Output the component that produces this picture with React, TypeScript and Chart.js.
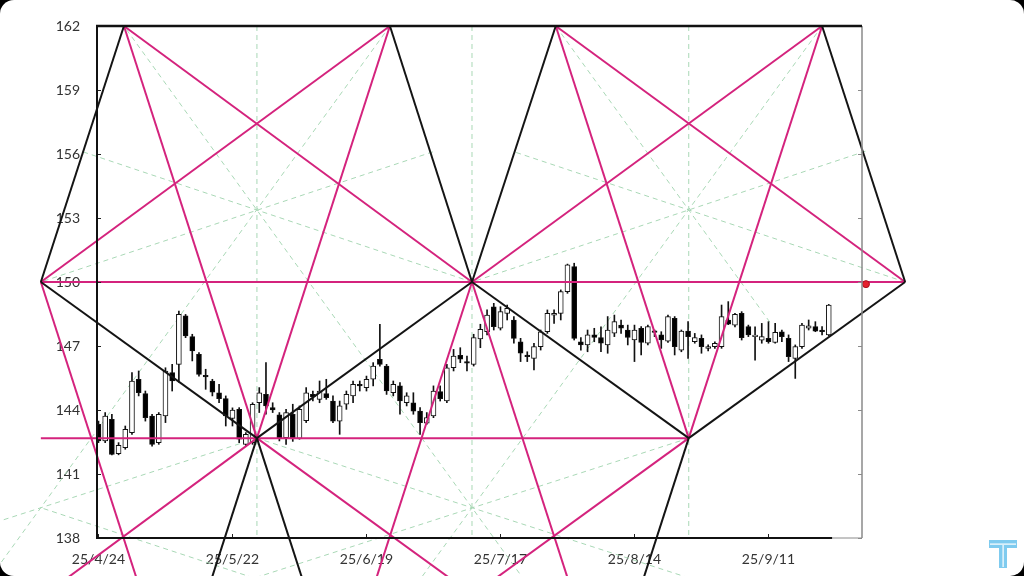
import React, { useEffect, useRef } from 'react';
import { Chart, registerables } from 'chart.js';

Chart.register(...registerables);

// ---- axis data ----
const tickIndex = [0, 20, 40, 60, 80, 100];
const tickLabels = ['25/4/24', '25/5/22', '25/6/19', '25/7/17', '25/8/14', '25/9/11'];
const yMin = 138;
const yMax = 162;
const yStep = 3;
const xMin = -0.22;
const xMax = 113.96;

// ---- daily candles (trading-day index 0..109) ----
const opens = [
  143.33, 142.55, 143.56, 141.95, 142.23, 142.94, 145.44, 144.77, 143.72, 142.47,
  143.72, 145.75, 146.14, 148.41, 147.44, 146.61, 145.63, 145.36, 144.81, 144.53,
  143.60, 144.03, 142.39, 142.47, 144.34, 144.73, 144.11, 143.77, 142.70, 143.80,
  142.67, 143.50, 144.73, 144.50, 144.77, 144.42, 143.48, 144.27, 144.66, 145.20,
  145.05, 145.44, 146.38, 146.06, 144.81, 145.13, 144.34, 144.34, 143.95, 143.38,
  143.72, 144.86, 144.42, 145.98, 146.56, 146.27, 146.14, 147.33, 147.67, 148.84,
  147.83, 148.53, 148.22, 147.20, 146.58, 146.42, 146.97, 147.67, 148.45, 148.53,
  149.55, 150.72, 147.20, 147.05, 147.52, 147.40, 147.05, 147.60, 147.98, 147.75,
  147.28, 147.83, 147.13, 147.70, 147.52, 147.23, 148.30, 146.81, 147.70, 147.20,
  147.36, 146.89, 146.97, 146.97, 148.22, 147.98, 148.53, 147.91, 147.44, 147.27,
  147.36, 147.17, 147.67, 147.36, 146.42, 146.97, 147.83, 147.91, 147.75, 147.52,
];
const highs = [
  143.48, 143.88, 143.80, 142.47, 143.25, 145.75, 145.83, 144.89, 143.80, 143.88,
  145.98, 146.14, 148.64, 148.48, 147.55, 146.69, 145.91, 145.44, 145.20, 144.66,
  144.10, 144.11, 142.94, 144.34, 145.05, 146.22, 144.34, 143.88, 144.03, 144.27,
  144.19, 145.05, 144.89, 145.36, 145.44, 144.66, 144.42, 144.89, 145.36, 145.36,
  145.59, 146.22, 148.02, 146.14, 145.36, 145.28, 144.81, 144.81, 144.11, 143.88,
  145.13, 145.13, 146.14, 146.84, 146.92, 146.53, 147.55, 148.02, 148.69, 149.00,
  148.84, 148.92, 148.38, 147.36, 146.73, 147.13, 147.75, 148.69, 148.69, 149.63,
  150.84, 150.88, 147.40, 147.75, 147.83, 147.90, 148.38, 148.45, 148.22, 147.98,
  147.98, 147.91, 147.98, 147.75, 147.67, 148.45, 148.38, 147.75, 148.14, 147.59,
  147.52, 147.05, 147.20, 148.92, 149.08, 148.53, 148.61, 147.98, 147.90, 148.06,
  148.14, 148.06, 147.75, 147.52, 147.05, 148.06, 148.22, 148.14, 147.91, 148.95,
];
const lows = [
  142.47, 142.47, 141.90, 141.90, 142.16, 142.86, 144.66, 143.48, 142.31, 142.39,
  143.41, 144.89, 145.30, 147.39, 146.30, 145.59, 144.97, 144.66, 144.34, 143.25,
  143.25, 142.47, 142.31, 142.39, 143.88, 143.80, 143.88, 142.55, 142.39, 142.53,
  142.63, 143.41, 144.42, 144.34, 144.50, 143.41, 142.86, 144.03, 144.34, 144.89,
  144.89, 145.13, 146.06, 144.73, 144.66, 143.80, 144.19, 143.80, 142.86, 143.33,
  143.64, 144.42, 144.34, 145.83, 146.22, 145.83, 146.06, 146.92, 147.52, 147.75,
  147.75, 148.22, 147.13, 146.27, 146.27, 145.88, 146.81, 147.59, 148.06, 148.22,
  149.47, 147.28, 146.81, 146.73, 147.20, 146.73, 146.66, 147.44, 147.59, 147.05,
  146.27, 146.58, 147.05, 147.44, 146.89, 147.17, 146.58, 146.73, 146.42, 147.13,
  146.66, 146.77, 146.89, 146.89, 148.00, 147.90, 147.28, 147.44, 146.34, 147.13,
  147.13, 147.13, 147.20, 146.27, 145.48, 146.89, 147.75, 147.67, 147.52, 147.48,
];
const closes = [
  142.55, 143.72, 141.92, 142.34, 143.09, 145.36, 144.81, 143.64, 142.39, 143.80,
  145.83, 145.36, 148.48, 147.47, 146.77, 145.67, 145.55, 144.84, 144.53, 143.72,
  144.00, 142.63, 142.86, 144.27, 144.81, 144.19, 144.00, 142.67, 143.88, 142.70,
  144.03, 144.81, 144.63, 144.89, 144.58, 143.48, 144.19, 144.73, 145.20, 145.13,
  145.44, 146.06, 146.14, 144.89, 145.20, 144.42, 144.66, 143.95, 143.41, 143.64,
  144.89, 144.53, 145.98, 146.53, 146.38, 146.19, 147.39, 147.78, 148.45, 147.91,
  148.61, 148.77, 147.36, 146.66, 146.50, 146.97, 147.67, 148.53, 148.53, 149.55,
  150.80, 147.36, 147.05, 147.52, 147.40, 147.13, 147.75, 148.14, 147.83, 147.40,
  147.75, 147.17, 147.91, 147.64, 147.28, 148.38, 146.97, 147.70, 147.44, 147.39,
  146.97, 146.97, 147.13, 148.38, 148.02, 148.48, 147.39, 147.52, 147.48, 147.44,
  147.20, 147.64, 147.44, 146.50, 146.97, 147.98, 147.95, 147.70, 147.67, 148.92,
];

// ---- geometric overlay (data units: [index1, price1, index2, price2]) ----
const blackLines = [
  [-8.6, 150, 3.8, 162],
  [43.5, 162, 55.75, 150],
  [55.75, 150, 68.25, 162],
  [108, 162, 120.4, 150],
  [-8.6, 150, 23.65, 142.68],
  [23.65, 142.68, 55.75, 150],
  [55.75, 150, 88.1, 142.68],
  [88.1, 142.68, 120.4, 150],
  [23.65, 142.68, 16.79, 136],
  [23.65, 142.68, 30.51, 136],
  [88.1, 142.68, 81.24, 136],
];
const pinkLines = [
  [-8.6, 150, 120.4, 150],
  [-8.6, 142.68, 88.1, 142.68],
  [3.8, 162, 23.65, 142.68],
  [43.5, 162, 23.65, 142.68],
  [3.8, 162, 55.75, 150],
  [-8.6, 150, 43.5, 162],
  [68.25, 162, 88.1, 142.68],
  [108, 162, 88.1, 142.68],
  [68.25, 162, 120.4, 150],
  [55.75, 150, 108, 162],
  [-8.6, 150, 5.8, 136],
  [23.65, 142.68, -5.2, 136],
  [23.65, 142.68, 52.95, 136],
  [55.75, 150, 41.35, 136],
  [55.75, 150, 70.15, 136],
  [88.1, 142.68, 58.8, 136],
];
const greenLines = [
  [23.65, 162, 23.65, 138],
  [55.75, 162, 55.75, 138],
  [88.1, 162, 88.1, 138],
  [3.8, 162, 63.62, 136],
  [43.5, 162, -16.5, 136],
  [-8.6, 150, 49.9, 156.1],
  [55.75, 150, -2.3, 156.1],
  [68.25, 162, 100.2, 148.12],
  [108, 162, 47.86, 136],
  [55.75, 150, 114.47, 156.13],
  [120.4, 150, 61.78, 156.13],
  [23.65, 142.68, 89.4, 136],
  [88.1, 142.68, 22.05, 136],
  [23.65, 142.68, -15, 138.77],
  [-8.6, 139.42, 24.4, 136],
];
const markerPoint = [114.55, 149.9];

const PINK = '#d4237d';
const GREEN = '#a9d8b6';
const FONT = 'Lato';

function segData(s: number[]) {
  const [x1, y1, x2, y2] = s;
  // listed with descending x so that no point is trimmed outside the scale range
  return x1 >= x2
    ? [{ x: x1, y: y1 }, { x: x2, y: y2 }]
    : [{ x: x2, y: y2 }, { x: x1, y: y1 }];
}

function lineSets(list: number[][], color: string, width: number, order: number, dash: number[] = []) {
  return list.map((s) => ({
    type: 'line' as const,
    data: segData(s),
    borderColor: color,
    borderWidth: width,
    borderDash: dash,
    pointRadius: 0,
    fill: false,
    tension: 0,
    clip: false as any,
    order,
  }));
}

const framePlugin = {
  id: 'frame',
  afterDatasetsDraw(chart: any) {
    const { ctx, chartArea, scales } = chart;
    const { left, right, top, bottom } = chartArea;
    const xs = scales.x;
    const ys = scales.y;
    ctx.save();
    ctx.lineCap = 'butt';
    // inward tick marks
    ctx.lineWidth = 1;
    ys.ticks.forEach((t: any) => {
      const py = Math.round(ys.getPixelForValue(t.value)) + 0.5;
      ctx.strokeStyle = '#222';
      ctx.beginPath(); ctx.moveTo(left, py); ctx.lineTo(left + 4, py); ctx.stroke();
      ctx.strokeStyle = '#8a8a8a';
      ctx.beginPath(); ctx.moveTo(right - 4, py); ctx.lineTo(right, py); ctx.stroke();
    });
    xs.ticks.forEach((t: any) => {
      const px = Math.round(xs.getPixelForValue(t.value)) + 0.5;
      ctx.strokeStyle = '#222';
      ctx.beginPath(); ctx.moveTo(px, bottom); ctx.lineTo(px, bottom - 4); ctx.stroke();
    });
    // borders
    ctx.strokeStyle = '#8a8a8a';
    ctx.lineWidth = 1.5;
    ctx.beginPath(); ctx.moveTo(right, top); ctx.lineTo(right, bottom); ctx.stroke();
    const axisEnd = xs.getPixelForValue(opens.length - 0.5);
    ctx.lineWidth = 1;
    ctx.beginPath(); ctx.moveTo(axisEnd, bottom); ctx.lineTo(right, bottom); ctx.stroke();
    ctx.strokeStyle = '#111';
    ctx.lineWidth = 2;
    ctx.beginPath(); ctx.moveTo(left, top); ctx.lineTo(left, bottom + 1); ctx.stroke();
    ctx.beginPath(); ctx.moveTo(left - 1, bottom); ctx.lineTo(axisEnd, bottom); ctx.stroke();
    ctx.lineWidth = 2.5;
    ctx.beginPath(); ctx.moveTo(left - 1, top); ctx.lineTo(right, top); ctx.stroke();
    ctx.restore();
  },
};

const logoPlugin = {
  id: 'logo',
  afterDraw(chart: any) {
    const { ctx } = chart;
    ctx.save();
    ctx.fillStyle = '#7fcbef';
    ctx.fillRect(989, 540, 28, 8);
    ctx.fillRect(999, 548, 8, 20);
    ctx.fillStyle = '#ffffff';
    ctx.fillRect(990, 543.5, 26, 1.2);
    ctx.fillRect(1002.5, 545, 1.2, 22);
    ctx.restore();
  },
};

export default function App() {
  const canvasRef = useRef<HTMLCanvasElement | null>(null);

  useEffect(() => {
    if (!canvasRef.current) return;
    const idx = opens.map((_, i) => i);
    const wickData = idx.map((i) => ({ x: i, y: [lows[i], highs[i]] }));
    const bodyData = idx.map((i) => ({ x: i, y: [opens[i], closes[i]] }));
    const bodyColors = idx.map((i) => (closes[i] >= opens[i] ? '#ffffff' : '#000000'));

    const datasets: any[] = [
      ...lineSets(greenLines, GREEN, 1, 10, [5, 4]),
      {
        type: 'bar',
        data: wickData,
        backgroundColor: '#111',
        borderWidth: 0,
        barThickness: 1,
        grouped: false,
        order: 6,
      },
      {
        type: 'bar',
        data: bodyData,
        backgroundColor: bodyColors,
        borderColor: '#111',
        borderWidth: 1,
        borderSkipped: false,
        barThickness: 5,
        minBarLength: 1.5,
        grouped: false,
        order: 5,
      },
      ...lineSets(pinkLines, PINK, 2, 2),
      ...lineSets(blackLines, '#141414', 2, 1),
      {
        type: 'line',
        data: [{ x: markerPoint[0], y: markerPoint[1] }],
        showLine: false,
        pointRadius: 3.5,
        pointBackgroundColor: '#e5202e',
        pointBorderColor: '#a8101a',
        pointBorderWidth: 1,
        clip: false,
        order: 0,
      },
    ];

    const chart = new Chart(canvasRef.current, {
      type: 'bar',
      data: { datasets },
      options: {
        animation: false,
        responsive: false,
        devicePixelRatio: 1,
        events: [],
        layout: { padding: { left: 0, top: 26, right: 162, bottom: 0 } },
        plugins: { legend: { display: false }, tooltip: { enabled: false } },
        scales: {
          x: {
            type: 'linear',
            min: xMin,
            max: xMax,
            offset: false,
            grid: { display: false, drawTicks: false },
            border: { display: false },
            afterBuildTicks: (scale: any) => {
              scale.ticks = tickIndex.map((v) => ({ value: v }));
            },
            afterFit: (scale: any) => {
              scale.height = 38;
            },
            ticks: {
              autoSkip: false,
              maxRotation: 0,
              padding: 13,
              color: '#333',
              font: { family: FONT, size: 14 },
              callback: (v: any) => {
                const k = tickIndex.indexOf(Number(v));
                return k >= 0 ? tickLabels[k] : '';
              },
            },
          },
          y: {
            type: 'linear',
            min: yMin,
            max: yMax,
            grid: { display: false, drawTicks: false },
            border: { display: false },
            afterFit: (scale: any) => {
              scale.width = 97;
            },
            ticks: {
              stepSize: yStep,
              padding: 17,
              color: '#333',
              font: { family: FONT, size: 14 },
            },
          },
        },
      },
      plugins: [framePlugin, logoPlugin],
    });
    return () => chart.destroy();
  }, []);

  return (
    <div style={{ position: 'fixed', left: 0, top: 0, width: 1024, height: 576, background: '#000' }}>
      <div
        style={{
          position: 'absolute',
          inset: 0,
          background: '#fff',
          borderRadius: 14,
          overflow: 'hidden',
        }}
      >
        <canvas ref={canvasRef} width={1024} height={576} style={{ display: 'block' }} />
      </div>
    </div>
  );
}
